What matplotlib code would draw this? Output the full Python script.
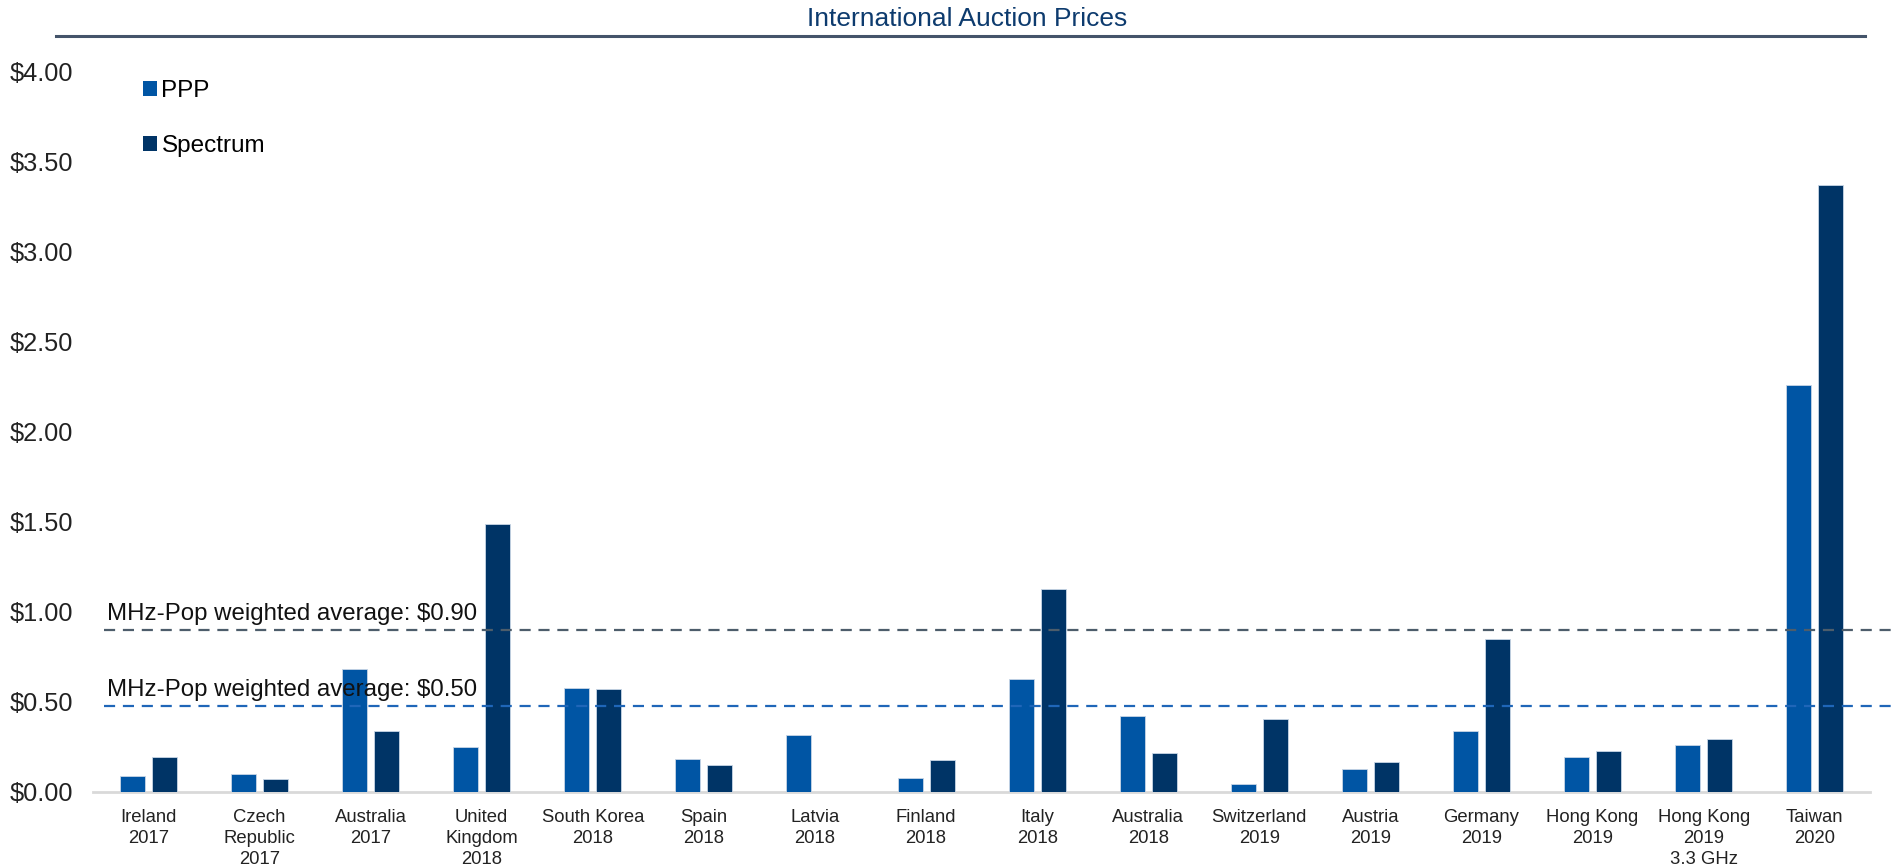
import numpy as np
import matplotlib
matplotlib.use("Agg")
import matplotlib.pyplot as plt
from matplotlib.lines import Line2D
from matplotlib.patches import Patch

plt.rcParams['font.family'] = ['Liberation Sans', 'DejaVu Sans']

# data
auctions = ['Ireland\n2017', 'Czech\nRepublic\n2017', 'Australia\n2017', 'United\nKingdom\n2018',
            'South Korea\n2018', 'Spain\n2018', 'Latvia\n2018', 'Finland\n2018', 'Italy\n2018',
            'Australia\n2018', 'Switzerland\n2019', 'Austria\n2019', 'Germany\n2019',
            'Hong Kong\n2019', 'Hong Kong\n2019\n3.3 GHz', 'Taiwan\n2020']
ppp = [0.09, 0.10, 0.685, 0.25, 0.575, 0.185, 0.315, 0.075, 0.63, 0.42, 0.045, 0.13,
       0.34, 0.195, 0.26, 2.26]
spectrum = [0.195, 0.07, 0.34, 1.49, 0.57, 0.15, 0.0, 0.175, 1.13, 0.215, 0.405, 0.165,
            0.85, 0.225, 0.295, 3.37]
avg_values = [0.90, 0.48]
avg_labels = ['MHz-Pop weighted average: $0.90', 'MHz-Pop weighted average: $0.50']
yticks = [0, 0.5, 1.0, 1.5, 2.0, 2.5, 3.0, 3.5, 4.0]

c_ppp = '#0055a4'
c_spec = '#003466'
avg_colors = ['#4d5d6b', '#1f66b8']

fig = plt.figure(figsize=(18.97, 8.66), dpi=100)
ax = fig.add_axes([0.049, 0.0855, 0.9369, 0.8314])

x = np.arange(len(auctions))
w = 0.225
off = 0.144
ax.bar(x - off, ppp, w, color=c_ppp, edgecolor='#c9d6e6', linewidth=0.6, zorder=3)
ax.bar(x + off, spectrum, w, color=c_spec, edgecolor='#c9d6e6', linewidth=0.6, zorder=3)

# weighted average lines, slightly wider than the axes
for v, lab, col in zip(avg_values, avg_labels, avg_colors):
    ax.plot([0.006, 1.013], [v, v], transform=ax.get_yaxis_transform(), color=col,
            lw=1.6, dashes=(5, 3.5), clip_on=False, zorder=4)
    ax.text(0.008, v + 0.025, lab, transform=ax.get_yaxis_transform(), fontsize=17.3,
            color='#111111', va='bottom', ha='left', zorder=5)

ax.set_xlim(-0.5, len(auctions) - 0.5)
ax.set_ylim(0, 4.0)
ax.set_yticks(yticks)
ax.set_yticklabels(['$%.2f' % t for t in yticks], fontsize=18.3, color='#222222')
ax.set_xticks(x)
ax.set_xticklabels(auctions, fontsize=13.3, color='#222222', linespacing=1.3)
ax.tick_params(axis='both', length=0)
ax.tick_params(axis='y', pad=14)
ax.tick_params(axis='x', pad=12.5)

for s in ['top', 'right', 'left']:
    ax.spines[s].set_visible(False)
ax.spines['bottom'].set_color('#d9d9d9')
ax.spines['bottom'].set_linewidth(2)
ax.spines['bottom'].set_zorder(2)

handles = [Patch(facecolor=c_ppp), Patch(facecolor=c_spec)]
ax.legend(handles, ['PPP', 'Spectrum'], loc='upper left', bbox_to_anchor=(0.016, 1.019),
          frameon=False, fontsize=17.5, handlelength=0.55, handleheight=0.55,
          handletextpad=0.2, labelspacing=1.35)

# title with rule underneath
fig.text(0.510, 0.978, 'International Auction Prices', ha='center', va='center',
         fontsize=19, color='#0d3b6e')
fig.add_artist(Line2D([0.0295, 0.983], [0.9588, 0.9588], color='#44546a', lw=2.2))

fig.savefig('out.png', dpi=100)
